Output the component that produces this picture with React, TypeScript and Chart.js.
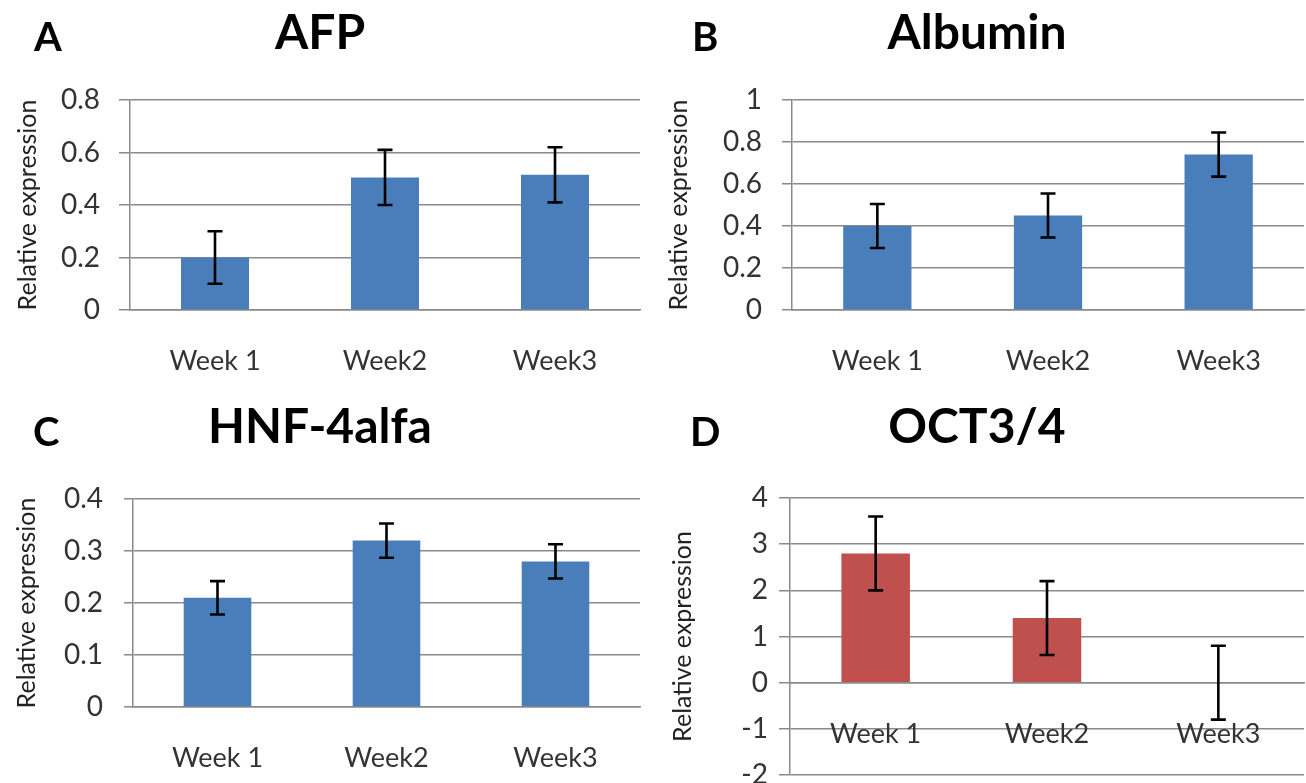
import React, { useEffect, useRef } from 'react';
import { Chart, registerables } from 'chart.js';

Chart.register(...registerables);

// ---------- data ----------
const weeks = ['Week 1', 'Week2', 'Week3'];

const afpValues = [0.2, 0.505, 0.515];
const afpErrors = [0.1, 0.105, 0.105];

const albuminValues = [0.4, 0.45, 0.74];
const albuminErrors = [0.105, 0.105, 0.105];

const hnfValues = [0.21, 0.32, 0.28];
const hnfErrors = [0.032, 0.033, 0.033];

const octValues = [2.8, 1.4, 0];
const octErrors = [0.8, 0.8, 0.8];

const afpAxis = [0, 0.8, 0.2];
const albuminAxis = [0, 1, 0.2];
const hnfAxis = [0, 0.4, 0.1];
const octAxis = [-2, 4, 1];

const yAxisTitle = 'Relative expression';

// ---------- styles ----------
const FONT = 'Lato';
const BLUE = '#4A7EBB';
const RED = '#C0504D';
const GRID = '#8a8a8a';
const TEXT = '#333333';

type Panel = {
  letter: string;
  title: string;
  values: number[];
  errors: number[];
  axis: number[];
  color: string;
  left: number;
  top: number;
  w: number;
  h: number;
  areaLeft: number;
  areaRight: number;
  areaTop: number;
  areaBottom: number;
  titleCenter: number;
  letterX: number;
  letterY: number;
  yTitleX: number;
  tickPad: number;
  tickLen: number;
  zeroAxis: boolean;
};

const panels: Panel[] = [
  {
    letter: 'A', title: 'AFP', values: afpValues, errors: afpErrors, axis: afpAxis, color: BLUE,
    left: 0, top: 0, w: 650, h: 390,
    areaLeft: 130, areaRight: 640, areaTop: 100, areaBottom: 310,
    titleCenter: 34, letterX: 34, letterY: 38, yTitleX: 28, tickPad: 19, tickLen: 11, zeroAxis: false,
  },
  {
    letter: 'B', title: 'Albumin', values: albuminValues, errors: albuminErrors, axis: albuminAxis, color: BLUE,
    left: 650, top: 0, w: 656, h: 390,
    areaLeft: 142, areaRight: 654, areaTop: 100, areaBottom: 310,
    titleCenter: 34, letterX: 42, letterY: 38, yTitleX: 29, tickPad: 20, tickLen: 10, zeroAxis: false,
  },
  {
    letter: 'C', title: 'HNF-4alfa', values: hnfValues, errors: hnfErrors, axis: hnfAxis, color: BLUE,
    left: 0, top: 390, w: 650, h: 393,
    areaLeft: 133, areaRight: 640, areaTop: 109, areaBottom: 317,
    titleCenter: 38, letterX: 33, letterY: 43, yTitleX: 27, tickPad: 21, tickLen: 9, zeroAxis: false,
  },
  {
    letter: 'D', title: 'OCT3/4', values: octValues, errors: octErrors, axis: octAxis, color: RED,
    left: 650, top: 390, w: 656, h: 393,
    areaLeft: 140, areaRight: 654, areaTop: 108, areaBottom: 385,
    titleCenter: 38, letterX: 40, letterY: 43, yTitleX: 33, tickPad: 11, tickLen: 11, zeroAxis: true,
  },
];

function makeErrorBarPlugin(errors: number[]) {
  return {
    id: 'errorBars',
    afterDatasetsDraw(chart: any) {
      const meta = chart.getDatasetMeta(0);
      const y = chart.scales.y;
      const data = chart.data.datasets[0].data as number[];
      const ctx = chart.ctx;
      ctx.save();
      ctx.strokeStyle = '#000';
      ctx.lineWidth = 2.6;
      meta.data.forEach((bar: any, i: number) => {
        const v = data[i];
        const t = y.getPixelForValue(v + errors[i]);
        const b = y.getPixelForValue(v - errors[i]);
        const x = bar.x;
        ctx.beginPath();
        ctx.moveTo(x, t);
        ctx.lineTo(x, b);
        ctx.moveTo(x - 7.5, t);
        ctx.lineTo(x + 7.5, t);
        ctx.moveTo(x - 7.5, b);
        ctx.lineTo(x + 7.5, b);
        ctx.stroke();
      });
      ctx.restore();
    },
  };
}

function makeLetterPlugin(letter: string, x: number, y: number) {
  return {
    id: 'panelLetter',
    afterDraw(chart: any) {
      const ctx = chart.ctx;
      ctx.save();
      ctx.fillStyle = '#000';
      ctx.font = `bold 40px ${FONT}`;
      ctx.textAlign = 'left';
      ctx.textBaseline = 'middle';
      ctx.fillText(letter, x, y);
      ctx.restore();
    },
  };
}

function formatTick(v: number | string) {
  return String(Number(Number(v).toFixed(2)));
}

function PanelChart({ p }: { p: Panel }) {
  const ref = useRef<HTMLCanvasElement | null>(null);
  useEffect(() => {
    if (!ref.current) return;
    const titleSize = 48;
    const titleLH = titleSize * 1.2;
    const titleTop = p.titleCenter - titleLH / 2;
    const titleBottom = p.areaTop - titleTop - titleLH;
    const yTitleSize = 25;
    const yTitlePad = p.yTitleX - (yTitleSize * 1.2) / 2;
    const chart = new Chart(ref.current, {
      type: 'bar',
      data: {
        labels: weeks,
        datasets: [
          {
            data: p.values,
            backgroundColor: p.color,
            borderWidth: 0,
            barPercentage: 0.4,
            categoryPercentage: 1,
          },
        ],
      },
      options: {
        responsive: false,
        animation: false,
        devicePixelRatio: 1,
        layout: {
          padding: {
            left: 0,
            right: p.w - p.areaRight,
            top: 0,
            bottom: p.zeroAxis ? p.h - p.areaBottom : 0,
          },
        },
        plugins: {
          legend: { display: false },
          tooltip: { enabled: false },
          title: {
            display: true,
            text: p.title,
            color: '#000',
            font: { family: FONT, size: titleSize, weight: 'bold', lineHeight: 1.2 },
            padding: { top: titleTop, bottom: titleBottom },
          },
        },
        scales: {
          x: {
            position: p.zeroAxis ? ({ y: 0 } as any) : 'bottom',
            grid: { display: false, drawTicks: false },
            border: { display: true, color: GRID, width: 1.5 },
            ticks: {
              font: { family: FONT, size: 27 },
              color: TEXT,
              padding: 35,
              maxRotation: 0,
              autoSkip: false,
            },
            afterFit(s: any) {
              if (!p.zeroAxis) s.height = p.h - p.areaBottom;
              s.paddingLeft = 0;
              s.paddingRight = 0;
            },
          },
          y: {
            min: p.axis[0],
            max: p.axis[1],
            ticks: {
              stepSize: p.axis[2],
              font: { family: FONT, size: 28 },
              color: TEXT,
              padding: p.tickPad,
              callback: (v: any) => formatTick(v),
            },
            grid: { color: GRID, lineWidth: 1.5, drawTicks: true, tickLength: p.tickLen },
            border: { display: true, color: GRID, width: 1.5 },
            title: {
              display: true,
              text: yAxisTitle,
              color: '#222',
              font: { family: FONT, size: yTitleSize, lineHeight: 1.2 },
              padding: { top: yTitlePad, bottom: 0 },
            },
            afterFit(s: any) {
              s.width = p.areaLeft;
              s.paddingTop = 0;
              s.paddingBottom = 0;
            },
          },
        },
      },
      plugins: [makeErrorBarPlugin(p.errors), makeLetterPlugin(p.letter, p.letterX, p.letterY)],
    } as any);
    return () => chart.destroy();
  }, [p]);
  return (
    <canvas
      ref={ref}
      width={p.w}
      height={p.h}
      style={{ position: 'absolute', left: p.left, top: p.top, width: p.w, height: p.h }}
    />
  );
}

export default function App() {
  useEffect(() => {
    document.body.style.margin = '0';
  }, []);
  return (
    <div
      style={{
        position: 'fixed',
        left: 0,
        top: 0,
        width: 1306,
        height: 783,
        background: '#fff',
        overflow: 'hidden',
      }}
    >
      {panels.map((p) => (
        <PanelChart key={p.letter} p={p} />
      ))}
    </div>
  );
}
